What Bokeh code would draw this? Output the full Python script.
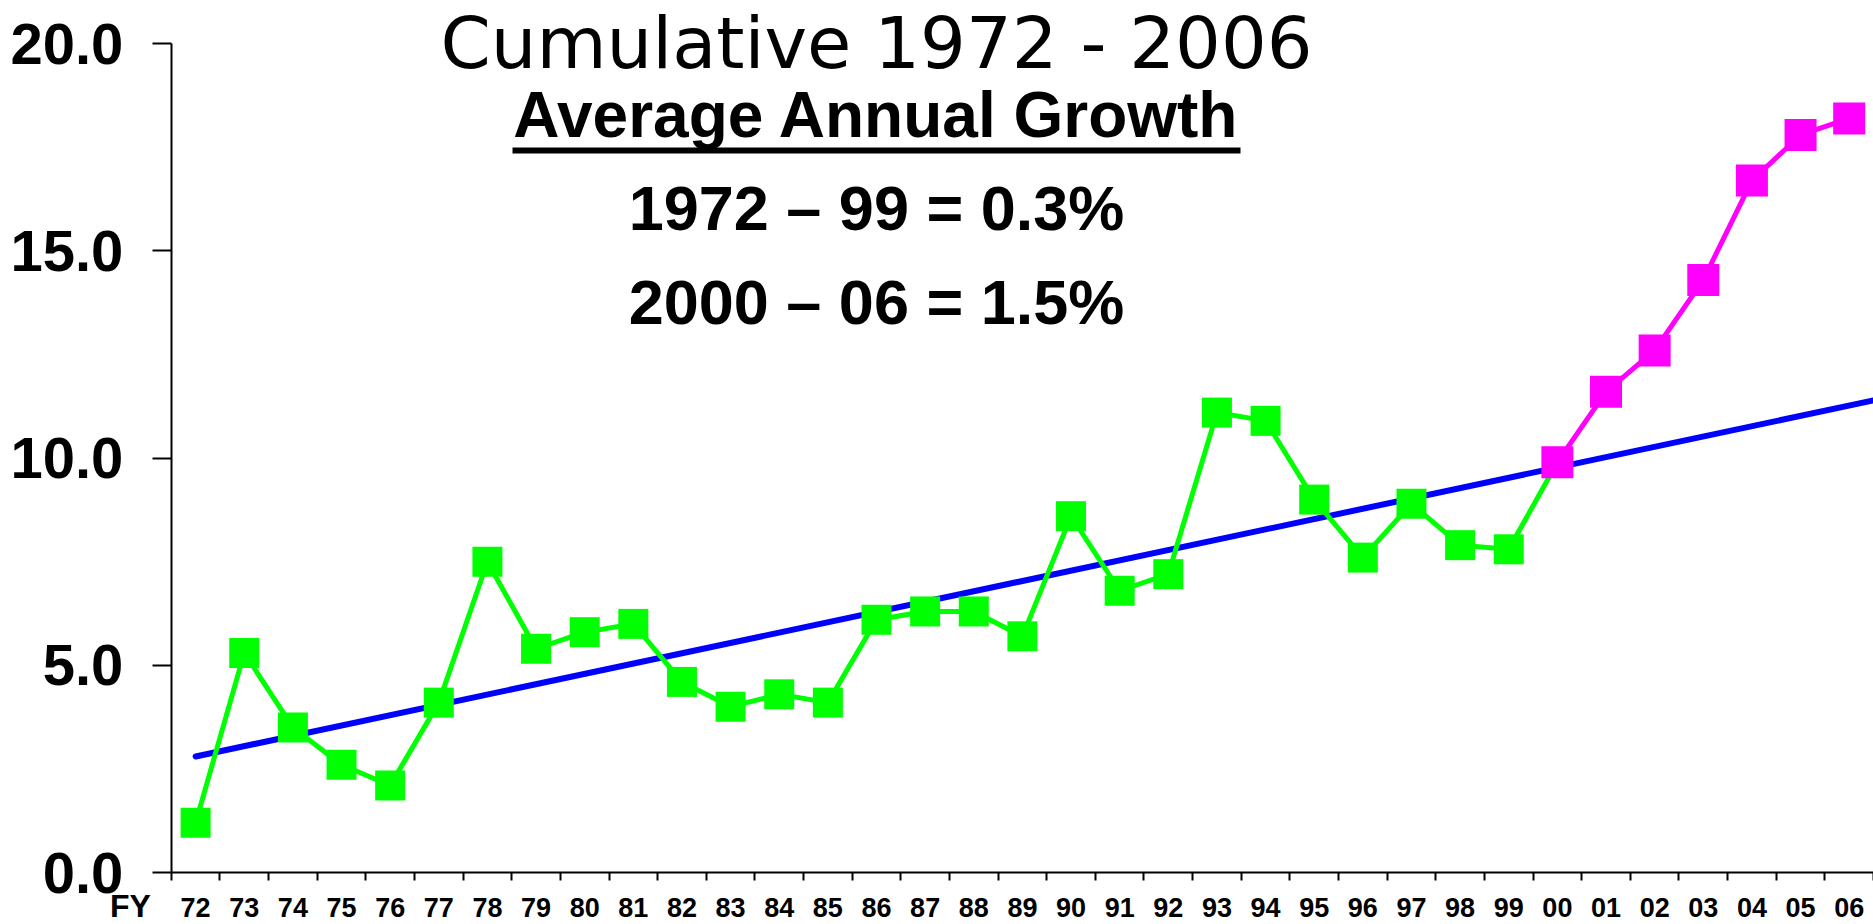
import numpy as np
from bokeh.plotting import figure
from bokeh.models import Range1d, FixedTicker, NumeralTickFormatter, Label
from bokeh.embed import file_html
from bokeh.resources import INLINE

# ---------------- data ----------------
years = ["72", "73", "74", "75", "76", "77", "78", "79", "80", "81",
         "82", "83", "84", "85", "86", "87", "88", "89", "90", "91",
         "92", "93", "94", "95", "96", "97", "98", "99", "00", "01",
         "02", "03", "04", "05", "06"]

green_years = years[:29]          # FY72 .. FY00
green_values = [1.2, 5.3, 3.5, 2.6, 2.1, 4.1, 7.5, 5.4, 5.8, 6.0,
                4.6, 4.0, 4.3, 4.1, 6.1, 6.3, 6.3, 5.7, 8.6, 6.8,
                7.2, 11.1, 10.9, 9.0, 7.6, 8.9, 7.9, 7.8, 9.9]

magenta_years = years[28:]        # FY00 .. FY06
magenta_values = [9.9, 11.6, 12.6, 14.3, 16.7, 17.8, 18.2]

trend_years = ["72", "06"]
trend_values = [2.8, 11.27]

y_ticks = [0, 5, 10, 15, 20]

title_text = "Cumulative 1972 - 2006"
subtitle_text = "Average Annual Growth"
growth_texts = ["1972 \u2013 99 = 0.3%", "2000 \u2013 06 = 1.5%"]
fy_text = "FY"

# ---------------- figure ----------------
n = len(years)
idx = {y: i for i, y in enumerate(years)}

W, H = 1873, 924
axis_x_px, top_px, zero_px = 170.8, 43.3, 872.0       # layout of the frame
px_per_cat = (W - axis_x_px) / n
px_per_unit = (zero_px - top_px) / 20.0
x_start = -0.5 - axis_x_px / px_per_cat
y_end = 20 + top_px / px_per_unit
y_start = -(H - zero_px) / px_per_unit

p = figure(width=W, height=H, output_backend="svg", toolbar_location=None,
           x_range=Range1d(x_start, n - 0.5), y_range=Range1d(y_start, y_end))
p.min_border = 0
p.min_border_left = 0
p.min_border_right = 0
p.min_border_top = 0
p.min_border_bottom = 0
p.outline_line_color = None
p.xgrid.grid_line_color = None
p.ygrid.grid_line_color = None
p.background_fill_color = "white"
p.border_fill_color = "white"

# x axis: labels at centres, ticks at category boundaries
xa = p.xaxis[0]
xa.fixed_location = 0
xa.bounds = (-0.5, n - 0.5)
xa.ticker = FixedTicker(ticks=list(range(n)),
                        minor_ticks=[i - 0.5 for i in range(n + 1)])
xa.major_label_overrides = {i: y for i, y in enumerate(years)}
xa.major_tick_out = 0
xa.major_tick_in = 0
xa.minor_tick_out = 8
xa.minor_tick_in = 0
xa.minor_tick_line_width = 2
xa.minor_tick_line_color = "black"
xa.axis_line_width = 2
xa.axis_line_color = "black"
xa.major_label_standoff = 17
xa.major_label_text_font = "Liberation Sans"
xa.major_label_text_font_style = "bold"
xa.major_label_text_font_size = "27px"
xa.major_label_text_color = "black"

ya = p.yaxis[0]
ya.fixed_location = -0.5
ya.bounds = (0, 20)
ya.ticker = FixedTicker(ticks=y_ticks, minor_ticks=[])
ya.formatter = NumeralTickFormatter(format="0.0")
ya.major_tick_out = 19
ya.major_tick_in = 0
ya.major_tick_line_width = 2
ya.major_tick_line_color = "black"
ya.minor_tick_out = 0
ya.minor_tick_in = 0
ya.axis_line_width = 2
ya.axis_line_color = "black"
ya.major_label_standoff = 29
ya.major_label_text_font = "Liberation Sans"
ya.major_label_text_font_style = "bold"
ya.major_label_text_font_size = "58px"
ya.major_label_text_color = "black"

# trend line (extended to the right edge of the last category)
tx = [idx[y] for y in trend_years]
slope = (trend_values[1] - trend_values[0]) / (tx[1] - tx[0])
trend_x = [tx[0], tx[1] + 0.5]
trend_y = [trend_values[0], trend_values[1] + slope * 0.5]
p.line(trend_x, trend_y, line_color="#0000FF", line_width=6, line_cap="round")

gx = [idx[y] for y in green_years]
p.line(gx, green_values, line_color="#00FF00", line_width=5)
p.scatter(gx, green_values, marker="square", size=30,
          fill_color="#00FF00", line_color="#00FF00", line_width=0)

mx = [idx[y] for y in magenta_years]
p.line(mx, magenta_values, line_color="#FF00FF", line_width=5)
p.scatter(mx, magenta_values, marker="square", size=32,
          fill_color="#FF00FF", line_color="#FF00FF", line_width=0)

# ---------------- annotations ----------------
def ydata(page_y):
    return (zero_px - page_y) / px_per_unit

def xdata(page_x):
    return (page_x - axis_x_px) / px_per_cat - 0.5

xc = idx["86"]
p.add_layout(Label(x=xc, y=ydata(68 - 0.36 * 72), text=title_text,
                   text_align="center", text_baseline="alphabetic",
                   text_font="DejaVu Sans", text_font_size="72px",
                   text_color="black"))
p.add_layout(Label(x=xc, y=ydata(138 - 0.36 * 64), text=subtitle_text,
                   text_align="center", text_baseline="alphabetic",
                   text_font="Liberation Sans", text_font_style="bold",
                   text_font_size="64px", text_color="black"))
half_w = 364 / px_per_cat
p.segment(x0=[xc - half_w], y0=[ydata(150)], x1=[xc + half_w], y1=[ydata(150)],
          line_color="black", line_width=6)
for txt, base in zip(growth_texts, [230, 324]):
    p.add_layout(Label(x=xc, y=ydata(base - 0.36 * 63), text=txt,
                       text_align="center", text_baseline="alphabetic",
                       text_font="Liberation Sans", text_font_style="bold",
                       text_font_size="63px", text_color="black"))
p.add_layout(Label(x=xdata(130), y=ydata(917 - 0.36 * 32), text=fy_text,
                   text_align="center", text_baseline="alphabetic",
                   text_font="Liberation Sans", text_font_style="bold",
                   text_font_size="32px", text_color="black"))

open("out.html", "w").write(file_html(p, INLINE))
